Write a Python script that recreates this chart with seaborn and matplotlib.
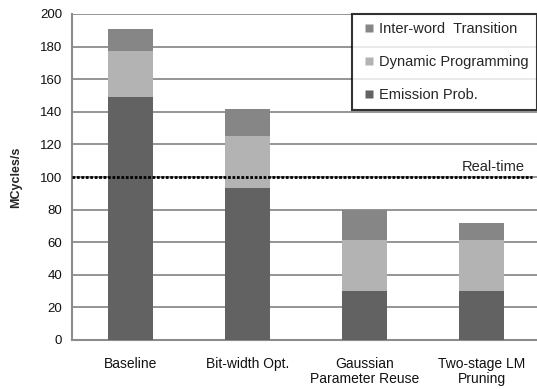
import numpy as np
import pandas as pd
import matplotlib
matplotlib.use('Agg')
import matplotlib.pyplot as plt
from matplotlib.lines import Line2D
import seaborn as sns

categories = ['Baseline', 'Bit-width Opt.', 'Gaussian\nParameter Reuse', 'Two-stage LM\nPruning']
emission = [149, 93, 30, 30]
dynamic = [28, 32, 31.5, 31.5]
interword = [14, 17, 18, 10.5]
series_names = ['Inter-word  Transition', 'Dynamic Programming', 'Emission Prob.']
realtime = 100

c_emis = '#626262'
c_dyn = '#b3b3b3'
c_inter = '#868686'
grid_c = '#8c8c8c'

sns.set_style('white')
plt.rcParams['font.family'] = ['Liberation Sans', 'DejaVu Sans']

df = pd.DataFrame({'cat': categories, 'emis': emission, 'dyn': dynamic, 'inter': interword})
df['lvl2'] = df['emis'] + df['dyn']
df['lvl3'] = df['lvl2'] + df['inter']

fig = plt.figure(figsize=(5.37, 3.89), dpi=100)
ax = fig.add_axes([72/537, 49/389, 468/537, 326/389])

# stacked by overdrawing cumulative totals
sns.barplot(data=df, x='cat', y='lvl3', color=c_inter, width=0.39, saturation=1, ax=ax, zorder=3)
sns.barplot(data=df, x='cat', y='lvl2', color=c_dyn, width=0.39, saturation=1, ax=ax, zorder=3)
sns.barplot(data=df, x='cat', y='emis', color=c_emis, width=0.39, saturation=1, ax=ax, zorder=3)
for p in ax.patches:
    p.set_linewidth(0)

ax.set_ylim(0, 200)
ax.set_xlim(-0.5, 3.5)
ax.set_yticks(np.arange(0, 201, 20))
ax.yaxis.grid(True, color=grid_c, lw=1.3, zorder=0)
ax.set_axisbelow(True)
for s in ['top', 'right']:
    ax.spines[s].set_visible(False)
for s in ['left', 'bottom']:
    ax.spines[s].set_color(grid_c)
    ax.spines[s].set_linewidth(1.5)

ax.set_xticks([0, 1, 2, 3])
ax.set_xticklabels(categories, fontsize=10, color='#111111', linespacing=1.15)
ax.tick_params(axis='x', length=0, pad=12)
ax.set_xticks([-0.5, 0.5, 1.5, 2.5], minor=True)
ax.tick_params(axis='x', which='minor', length=4, width=1.5, color=grid_c)
ax.tick_params(axis='y', length=4, width=1.3, color=grid_c, labelsize=9.5, labelcolor='#111111', pad=3)

ax.set_xlabel('')
ax.set_ylabel('MCycles/s', fontsize=9, fontweight='bold', labelpad=13)

ax.axhline(realtime, xmin=0, xmax=0.983, color='black', lw=2, linestyle=(0, (1, 0.6)), zorder=4)
ax.text(0.968, realtime + 2, 'Real-time', transform=ax.get_yaxis_transform(),
        ha='right', va='bottom', fontsize=10.5)

handles = [Line2D([], [], marker='s', color='none', markerfacecolor=c, markeredgecolor='none', markersize=5.5)
           for c in [c_inter, c_dyn, c_emis]]
leg = ax.legend(handles, series_names, loc='upper right', fontsize=10.5, frameon=True, fancybox=False,
                labelspacing=1.3, handlelength=1.25, handletextpad=0.1, borderpad=0.55,
                borderaxespad=0)
leg.get_frame().set_edgecolor('black')
leg.get_frame().set_linewidth(1.5)
leg.set_bbox_to_anchor((1.0, 1 - 14/389), transform=fig.transFigure)

fig.savefig('out.png', dpi=100)
